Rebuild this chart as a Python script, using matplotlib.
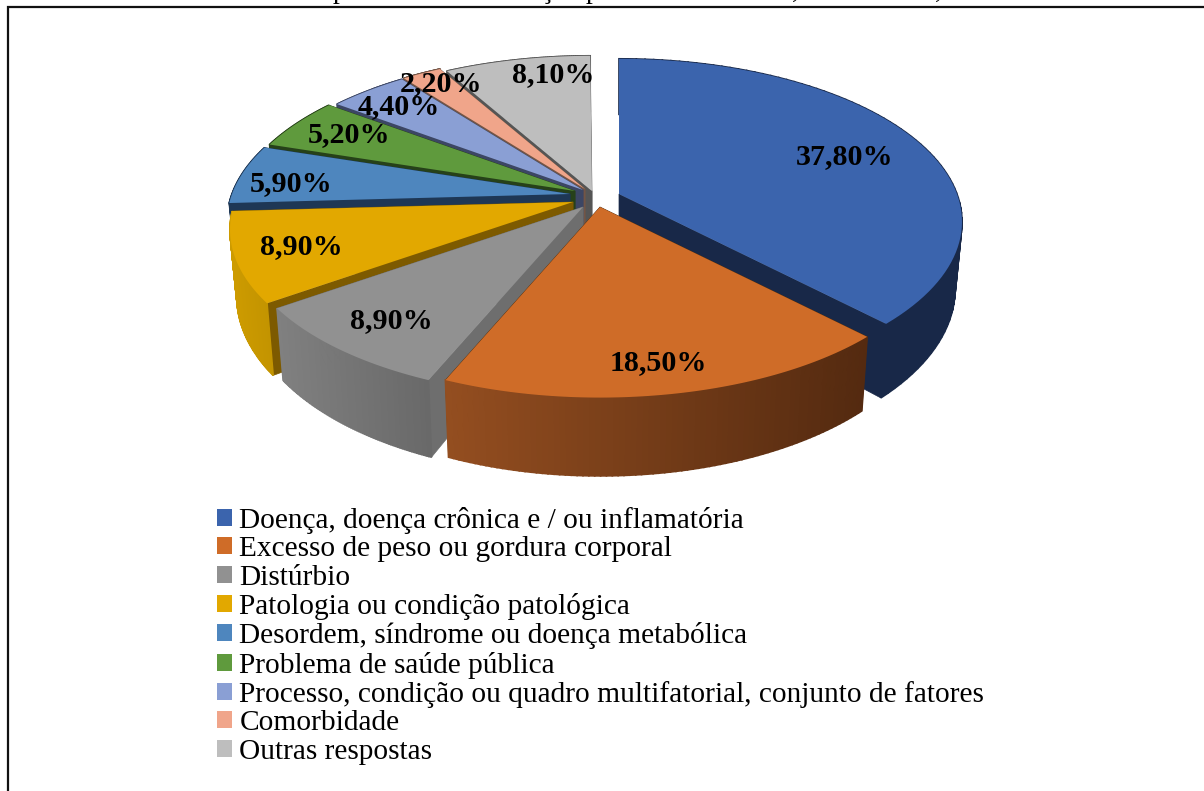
import numpy as np
import matplotlib
matplotlib.use("Agg")
import matplotlib.pyplot as plt
from matplotlib.patches import Patch

# dados do gráfico
categorias = ["Doença, doença crônica e / ou inflamatória",
              "Excesso de peso ou gordura corporal",
              "Distúrbio",
              "Patologia ou condição patológica",
              "Desordem, síndrome ou doença metabólica",
              "Problema de saúde pública",
              "Processo, condição ou quadro multifatorial, conjunto de fatores",
              "Comorbidade",
              "Outras respostas"]
valores = [37.8, 18.5, 8.9, 8.9, 5.9, 5.2, 4.4, 2.2, 8.1]
rotulos = ["37,80%", "18,50%", "8,90%", "8,90%", "5,90%", "5,20%", "4,40%", "2,20%", "8,10%"]

# cores: topo, parede radial, parede externa (esquerda e direita)
cor_topo = ["#3B64AD", "#CF6C28", "#919191", "#E2A800", "#4E86BE", "#5F9A3D", "#8A9FD4", "#F0A58A", "#BEBEBE"]
cor_lado = ["#182848", "#55300F", "#6E6E6E", "#7D5A00", "#1E3755", "#264119", "#3C4664", "#735546", "#555555"]
cor_esq = ["#182848", "#944E20", "#808080", "#CD9B00", "#1E3755", "#264119", "#3C4664", "#735546", "#555555"]
cor_dir = ["#182848", "#542A10", "#696969", "#C39400", "#1E3755", "#264119", "#3C4664", "#735546", "#555555"]

# posição de cada fatia e dos rótulos, em pixels
vertice_x = [619, 600, 583, 573, 570, 575, 583, 585, 592]
vertice_y = [194, 207, 207, 202, 194, 191, 190, 189, 191]
rotulo_x = [845, 658, 391, 301, 291, 349, 399, 441, 553]
rotulo_y = [157, 363, 321, 247, 184, 135, 107, 84, 75]
ordem = [8, 7, 6, 5, 4, 3, 2, 0, 1]

# perspectiva da pizza
raio = 338
achatamento = 0.468
persp = 0.17
altura = 65
encolhe = 0.98

fig = plt.figure(figsize=(12.04, 7.91), dpi=100)
ax = fig.add_axes([0, 0, 1, 1])
ax.set_xlim(0, 1204)
ax.set_ylim(791, 0)
ax.axis("off")


def projeta(vx, vy, theta):
    X = np.sin(theta)
    Y = -np.cos(theta)
    s = 1 / (1 - persp * Y)
    return vx + raio * X * s, vy + raio * achatamento * Y * s, s


def mistura(c1, c2, t):
    a = np.array(matplotlib.colors.to_rgb(c1))
    b = np.array(matplotlib.colors.to_rgb(c2))
    return a + (b - a) * t


limites = np.radians(np.concatenate([[0], np.cumsum(valores)]) * 3.6)

for i in ordem:
    vx, vy = vertice_x[i], vertice_y[i]
    th = np.linspace(limites[i], limites[i + 1], 80)
    x, y, s = projeta(vx, vy, th)
    xb = vx + (x - vx) * encolhe
    yb = y + altura * s
    z = ordem.index(i) + 1

    # paredes radiais
    for k in [0, -1]:
        ax.fill([vx, x[k], xb[k], vx], [vy, y[k], yb[k], vy + altura],
                color=cor_lado[i], lw=0.5, zorder=z)

    # parede externa com degradê
    x0, x1 = x.min(), x.max()
    for k in range(len(th) - 1):
        c = mistura(cor_esq[i], cor_dir[i], (x[k] - x0) / (x1 - x0))
        ax.fill([x[k], x[k + 1], xb[k + 1], xb[k]], [y[k], y[k + 1], yb[k + 1], yb[k]],
                facecolor=c, edgecolor=c, lw=1.2, zorder=z)

    # topo
    ax.fill(np.r_[vx, x], np.r_[vy, y], color=cor_topo[i], lw=0, zorder=z + 0.5)

for i in range(len(rotulos)):
    ax.text(rotulo_x[i], rotulo_y[i], rotulos[i], family="Liberation Serif", weight="bold",
            fontsize=21.6, ha="center", va="center", color="black", zorder=20)

# legenda
handles = [Patch(facecolor=c, edgecolor="none") for c in cor_topo]
leg = ax.legend(handles, categorias, loc="upper left", bbox_to_anchor=(208.5 / 1204, 1 - 498 / 791),
                frameon=False, prop={"family": "Liberation Serif", "size": 21.2}, handlelength=0.51,
                handleheight=0.51, handletextpad=0.24, labelspacing=0.08, borderpad=0.3, borderaxespad=0)
leg.set_zorder(20)

# moldura
ax.plot([7.5, 7.5, 1204], [791, 6.5, 6.5], color="#111111", lw=1.6, solid_joinstyle="miter", zorder=30)

# restos da legenda da figura, cortada no alto
for gx, g in zip([340, 547, 593, 795, 938], ["p", "ç", "p", ",", ","]):
    ax.text(gx, -2, g, family="Liberation Serif", fontsize=20, ha="center", va="baseline", zorder=30)

fig.savefig("out.png", dpi=100)
